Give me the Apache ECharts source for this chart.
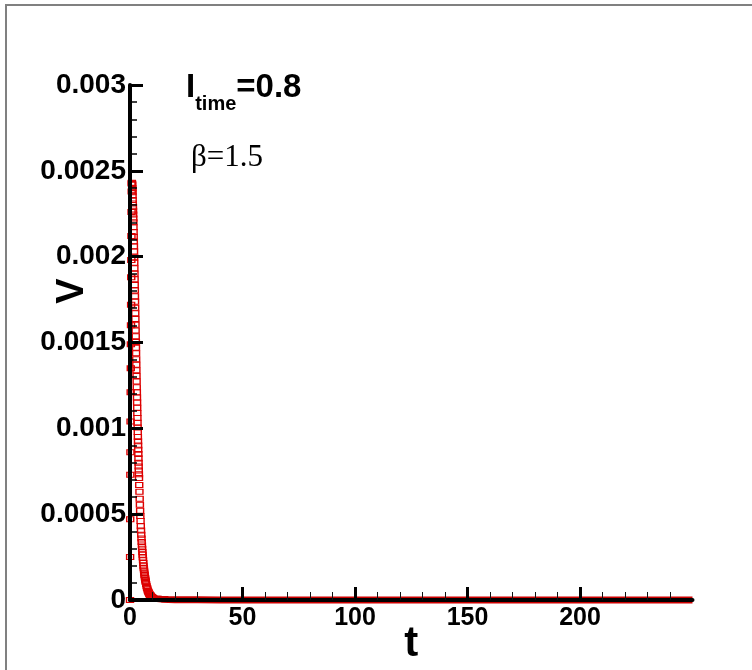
<!DOCTYPE html>
<html>
<head>
<meta charset="utf-8">
<script src="https://cdn.jsdelivr.net/npm/echarts@6/dist/echarts.min.js"></script>
<style>
html,body{margin:0;padding:0;background:#fff;}
#chart{width:752px;height:670px;}
</style>
</head>
<body>
<div id="chart"></div>
<script>
// ---- data ----
// rising phase [t, V]
var riseData = [
  [0.00,0.000000],[0.05,0.000250],[0.10,0.000470],[0.15,0.000730],[0.20,0.000860],
  [0.25,0.001040],[0.30,0.001210],[0.35,0.001350],[0.40,0.001490],[0.45,0.001600],
  [0.50,0.001720],[0.55,0.001880],[0.60,0.001980],[0.65,0.002120],[0.70,0.002260],
  [0.75,0.002380]
];
// decaying phase [t, V]
var decayData = [
  [0.80,0.002430],[0.85,0.002428],[0.90,0.002424],[0.95,0.002419],[1.00,0.002400],
  [1.05,0.002390],[1.10,0.002375],[1.15,0.002355],[1.20,0.002330],[1.25,0.002310],
  [1.30,0.002290],[1.35,0.002268],[1.40,0.002245],[1.45,0.002222],[1.50,0.002200],
  [1.55,0.002172],[1.60,0.002144],[1.65,0.002116],[1.70,0.002088],[1.75,0.002060],
  [1.80,0.002030],[1.85,0.001997],[1.90,0.001965],[1.95,0.001932],[2.00,0.001900],
  [2.05,0.001868],[2.10,0.001835],[2.15,0.001803],[2.20,0.001770],[2.25,0.001737],
  [2.30,0.001703],[2.35,0.001670],[2.40,0.001637],[2.45,0.001603],[2.50,0.001570],
  [2.55,0.001537],[2.60,0.001503],[2.65,0.001470],[2.70,0.001437],[2.75,0.001403],
  [2.80,0.001370],[2.85,0.001338],[2.90,0.001305],[2.95,0.001273],[3.00,0.001240],
  [3.05,0.001210],[3.10,0.001180],[3.15,0.001150],[3.20,0.001120],[3.25,0.001090],
  [3.30,0.001060],[3.35,0.001032],[3.40,0.001005],[3.45,0.000978],[3.50,0.000950],
  [3.55,0.000925],[3.60,0.000900],[3.65,0.000875],[3.70,0.000850],[3.75,0.000825],
  [3.80,0.000800],[3.85,0.000777],[3.90,0.000755],[3.95,0.000732],[4.00,0.000710],
  [4.1,0.000670],[4.2,0.000630],[4.3,0.000590],[4.4,0.000555],[4.5,0.000520],
  [4.6,0.000490],[4.7,0.000460],[4.8,0.000430],[4.9,0.000405],[5.0,0.000380],
  [5.1,0.000358],[5.2,0.000338],[5.3,0.000318],[5.4,0.000298],[5.5,0.000280],
  [5.6,0.000263],[5.7,0.000247],[5.8,0.000231],[5.9,0.000215],[6.0,0.000200],
  [6.1,0.000188],[6.2,0.000177],[6.3,0.000166],[6.4,0.000155],[6.5,0.000145],
  [6.6,0.000137],[6.7,0.000128],[6.8,0.000120],[6.9,0.000112],[7.0,0.000105],
  [7.2,0.000092],[7.4,0.000080],[7.6,0.000070],[7.8,0.000061],[8.0,0.000053],
  [8.2,0.000047],[8.4,0.000041],[8.6,0.000035],[8.8,0.000031],[9.0,0.000027],
  [9.2,0.000024],[9.4,0.000021],[9.6,0.000018],[9.8,0.000016],[10.0,0.000013]
];
// long flat tail [t, V]
var tailData = [
  [10.0,0.000013],[12,0.000008],[14,0.000005],[17,0.000003],[20,0.000002],
  [30,0.000001],[40,0],[60,0],[80,0],[100,0],[125,0],[150,0],[175,0],
  [200,0],[225,0],[250,0]
];
var xTickValues = [0, 50, 100, 150, 200];
var yTickValues = [0, 0.0005, 0.001, 0.0015, 0.002, 0.0025, 0.003];
var annotationItime = {label: 'I', sub: 'time', value: '=0.8'};
var annotationBeta = 'β=1.5';

var RED = '#dd0000';
var chart = echarts.init(document.getElementById('chart'), null, {renderer: 'canvas'});
var option = {
  animation: false,
  backgroundColor: '#ffffff',
  grid: {left: 130, right: 59.5, top: 85, bottom: 70, containLabel: false, outerBoundsMode: 'none'},
  xAxis: {
    type: 'value', min: 0, max: 250, interval: 50, z: 5,
    name: 't', nameLocation: 'middle', nameGap: 23, nameMoveOverlap: false,
    nameTextStyle: {fontFamily: 'Liberation Sans', fontWeight: 'bold', fontSize: 42, color: '#000'},
    axisLine: {show: true, onZero: false, lineStyle: {color: '#000', width: 4}},
    axisTick: {show: true, inside: true, length: 13, customValues: xTickValues, lineStyle: {color: '#000', width: 3}},
    minorTick: {show: true, splitNumber: 5, length: 8, lineStyle: {color: '#111', width: 1}},
    axisLabel: {
      show: true, margin: 6, customValues: xTickValues, hideOverlap: false,
      fontFamily: 'Liberation Sans', fontWeight: 'bold', fontSize: 25, color: '#000',
      formatter: function (v) { return String(v); }
    },
    splitLine: {show: false}
  },
  yAxis: {
    type: 'value', min: 0, max: 0.003, interval: 0.0005, z: 5,
    name: 'V', nameLocation: 'middle', nameGap: 38, nameRotate: 90, nameMoveOverlap: false,
    nameTextStyle: {fontFamily: 'Liberation Sans', fontWeight: 'bold', fontSize: 38, color: '#000', padding: [0, 0, 0, 103]},
    axisLine: {show: true, onZero: false, lineStyle: {color: '#000', width: 4}},
    axisTick: {show: true, inside: true, length: 13, lineStyle: {color: '#000', width: 3}},
    minorTick: {show: true, splitNumber: 5, length: 7, lineStyle: {color: '#000', width: 1.5}},
    axisLabel: {
      show: true, margin: 4,
      fontFamily: 'Liberation Sans', fontWeight: 'bold', fontSize: 28, color: '#000',
      formatter: function (v) {
        for (var i = 0; i < yTickValues.length; i++) {
          if (Math.abs(yTickValues[i] - v) < 1e-9) return String(yTickValues[i]);
        }
        return '';
      }
    },
    splitLine: {show: false}
  },
  graphic: [
    {type: 'polyline', silent: true, z: 100,
      shape: {points: [[6, 670], [6, 5], [752, 5]]},
      style: {stroke: '#808080', lineWidth: 2, fill: null}},
    {type: 'text', x: 186, y: 71.5, z: 100,
      style: {
        text: '{a|' + annotationItime.label + '}{b|' + annotationItime.sub + '}{a|' + annotationItime.value + '}',
        textVerticalAlign: 'top', verticalAlign: 'top',
        rich: {
          a: {fontFamily: 'Liberation Sans', fontWeight: 'bold', fontSize: 33, lineHeight: 34, verticalAlign: 'top', fill: '#000', color: '#000'},
          b: {fontFamily: 'Liberation Sans', fontWeight: 'bold', fontSize: 20, lineHeight: 20, verticalAlign: 'top', padding: [23, 0, 0, 0], fill: '#000', color: '#000'}
        }
      }},
    {type: 'text', x: 191, y: 157.5, z: 100,
      style: {
        text: annotationBeta, font: '31px "Liberation Serif"', fill: '#000',
        textVerticalAlign: 'middle', verticalAlign: 'middle', textAlign: 'left', align: 'left'
      }}
  ],
  series: [
    {
      type: 'line', data: tailData, showSymbol: false, symbol: 'none', z: 1,
      lineStyle: {color: '#cc0000', width: 7}, clip: false
    },
    {
      type: 'scatter', data: riseData.concat(decayData), z: 2,
      symbol: 'rect', symbolSize: [7, 5], clip: false,
      itemStyle: {color: 'rgba(255,255,255,0)', borderColor: RED, borderWidth: 1.2, opacity: 1}
    }
  ]
};
chart.setOption(option);
</script>
</body>
</html>
